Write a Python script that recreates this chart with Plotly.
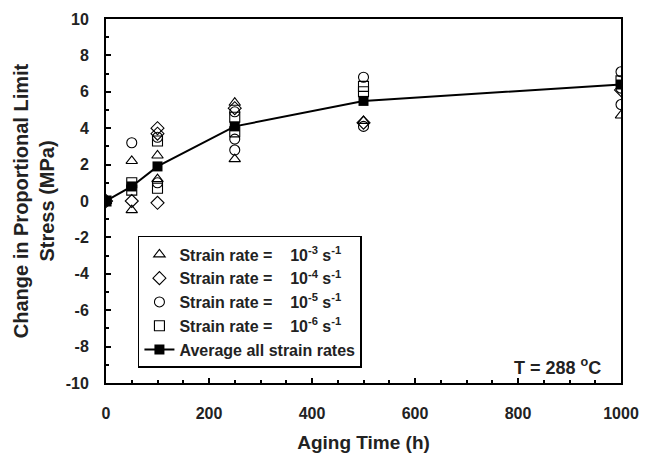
import plotly.graph_objects as go

# Data (aging time h, change in stress MPa)
tri_x = [0, 50, 50, 100, 100, 250, 250, 500, 1000]
tri_y = [0, 2.2, -0.5, 2.5, 1.2, 5.4, 2.3, 4.4, 4.7]

dia_x = [0, 50, 100, 100, 100, 250, 500, 1000]
dia_y = [0, 0.0, 4.0, 3.7, -0.1, 5.1, 4.3, 6.1]

cir_x = [0, 50, 100, 100, 250, 250, 250, 500, 500, 1000, 1000, 1000]
cir_y = [0, 3.2, 3.5, 1.0, 4.9, 3.4, 2.8, 6.8, 4.1, 7.1, 5.3, 6.2]

sq_x = [0, 50, 50, 100, 100, 250, 250, 500, 500, 1000]
sq_y = [0, 1.0, 0.6, 3.3, 0.7, 4.6, 3.8, 6.3, 6.0, 6.6]

avg_x = [0, 50, 100, 250, 500, 1000]
avg_y = [0, 0.8, 1.9, 4.1, 5.5, 6.4]

y_ticks = [-10, -8, -6, -4, -2, 0, 2, 4, 6, 8, 10]
y_ticktext = [str(v) for v in y_ticks]
x_ticks = [0, 200, 400, 600, 800, 1000]

FONT = "Liberation Sans, Arial, sans-serif"
TXT = "#222"
sp = "\u00a0" * 4

fig = go.Figure()
series = [
    (tri_x, tri_y, "triangle-up-open", f"Strain rate ={sp}10<sup>-3</sup> s<sup>-1</sup>"),
    (dia_x, dia_y, "diamond-open", f"Strain rate ={sp}10<sup>-4</sup> s<sup>-1</sup>"),
    (cir_x, cir_y, "circle-open", f"Strain rate ={sp}10<sup>-5</sup> s<sup>-1</sup>"),
    (sq_x, sq_y, "square-open", f"Strain rate ={sp}10<sup>-6</sup> s<sup>-1</sup>"),
]
for x, y, sym, name in series:
    fig.add_trace(go.Scatter(
        x=x, y=y, mode="markers", name=name,
        marker=dict(symbol=sym, size=10, color="black", line=dict(width=1.1, color="black")),
    ))
fig.add_trace(go.Scatter(
    x=avg_x, y=avg_y, mode="lines+markers", name="Average all strain rates",
    line=dict(color="black", width=2),
    marker=dict(symbol="square", size=10, color="black"),
))

fig.add_annotation(x=0.965, y=0.045, xref="paper", yref="paper", xanchor="right", yanchor="middle",
                   text="T = 288 <sup>o</sup>C", showarrow=False,
                   font=dict(family=FONT, size=18, color=TXT, weight="bold"))

axis_common = dict(
    showline=True, linecolor="black", linewidth=2, mirror=True,
    ticks="inside", tickcolor="black", tickwidth=1.5, ticklen=5,
    showgrid=False, zeroline=False, automargin=False,
    tickfont=dict(family=FONT, size=16, color=TXT, weight="bold"),
)

fig.update_xaxes(
    range=[0, 1000], tickmode="array", tickvals=x_ticks,
    minor=dict(dtick=50, ticks="inside", ticklen=3, tickcolor="black", tickwidth=1.5),
    ticklabelstandoff=15,
    title=dict(text="Aging Time (h)", font=dict(family=FONT, size=19, color=TXT, weight="bold"), standoff=16),
    **axis_common,
)
fig.update_yaxes(
    range=[-10, 10], tickmode="array", tickvals=y_ticks, ticktext=y_ticktext,
    minor=dict(dtick=1, ticks="inside", ticklen=3, tickcolor="black", tickwidth=1.5),
    ticklabelstandoff=12,
    title=dict(text="Change in Proportional Limit<br>Stress (MPa)",
               font=dict(family=FONT, size=20, color=TXT, weight="bold"), standoff=6),
    **axis_common,
)

fig.update_layout(
    width=650, height=453,
    margin=dict(l=106, r=29, t=19, b=70),
    plot_bgcolor="white", paper_bgcolor="white",
    legend=dict(x=0.062, y=0.404, xanchor="left", yanchor="top",
                bgcolor="white", bordercolor="black", borderwidth=1.5,
                font=dict(family=FONT, size=16, color=TXT, weight="bold"),
                tracegroupgap=0, itemwidth=30),
)

fig.write_html("out.html")
